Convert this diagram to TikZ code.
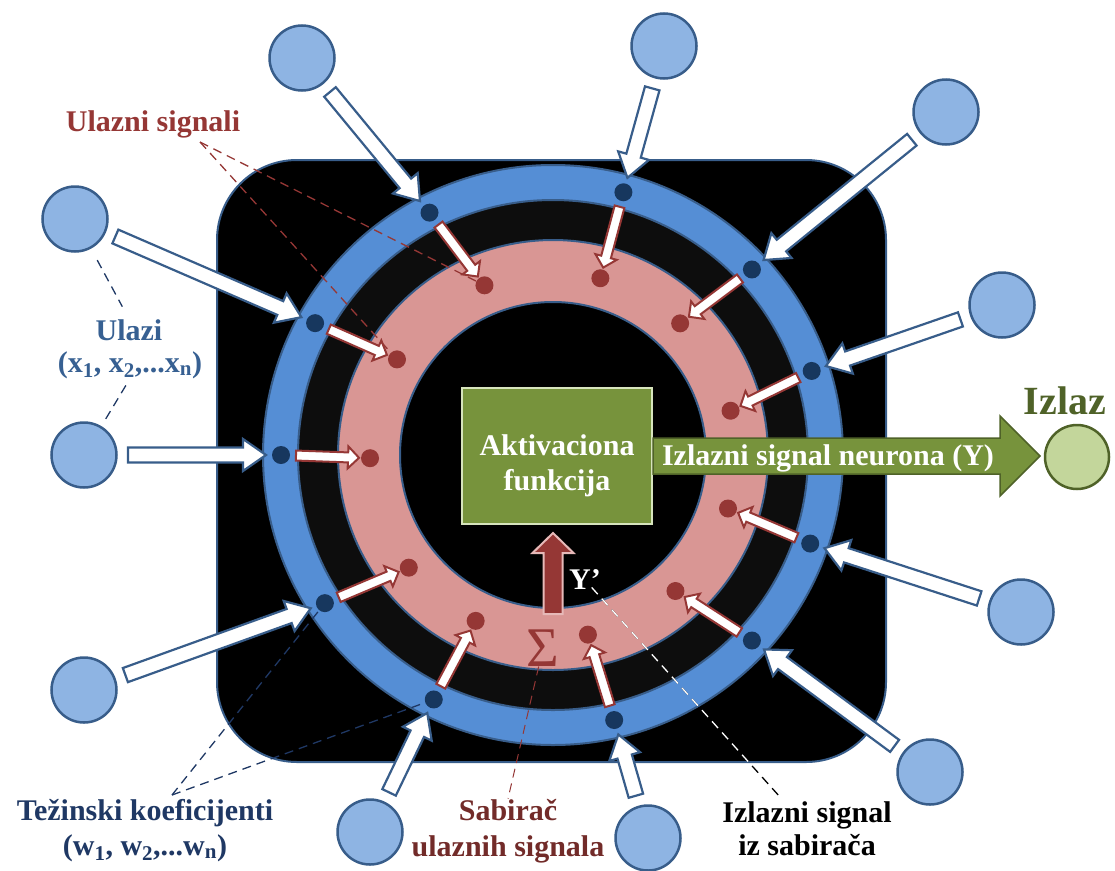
\documentclass[tikz,border=0pt]{standalone}
\usepackage{fontspec}
\setmainfont{Liberation Serif}
\usetikzlibrary{calc}

\definecolor{ringline}{HTML}{385D8A}
\definecolor{inblue}{HTML}{8EB4E3}
\definecolor{ringblue}{HTML}{558ED5}
\definecolor{wnavy}{HTML}{17375E}
\definecolor{sred}{HTML}{953735}
\definecolor{pinkring}{HTML}{D99694}
\definecolor{pinkline}{HTML}{E6B9B8}
\definecolor{darkring}{HTML}{0D0D0D}
\definecolor{boxgreen}{HTML}{77933C}
\definecolor{boxline}{HTML}{D7E4BD}
\definecolor{darkgreen}{HTML}{4F6228}
\definecolor{outgreen}{HTML}{C3D69B}
\definecolor{ulblue}{HTML}{376092}
\definecolor{tknavy}{HTML}{1F3864}
\definecolor{sablbl}{HTML}{722B29}

\tikzset{
  lbl/.style={font=\fontsize{30}{35}\selectfont\bfseries, inner sep=0pt, anchor=base},
  incirc/.style={circle, draw=ringline, line width=2.5pt, fill=inblue, minimum size=65pt, inner sep=0pt},
  wdot/.style={circle, fill=wnavy, minimum size=18pt, inner sep=0pt},
  sdot/.style={circle, fill=sred, minimum size=18pt, inner sep=0pt},
  inarrow/.style={draw=ringline, fill=white, line width=2.2pt},
  sumarrow/.style={draw=sred, fill=white, line width=2pt},
  ring/.style={draw=ringline, line width=2pt},
  leader/.style={line width=1.3pt, dash pattern=on 9pt off 6pt}
}

\newcommand{\blockarrow}[6]{%
  \coordinate (ba-b) at ($(#3)!#6!(#2)$);
  \draw[#1] ($(#2)!#4!90:(#3)$) -- ($(ba-b)!#4!90:(#3)$) -- ($(ba-b)!#5!90:(#3)$) -- (#3)
    -- ($(ba-b)!#5!-90:(#3)$) -- ($(ba-b)!#4!-90:(#3)$) -- ($(#2)!#4!-90:(#3)$) -- cycle;}

\begin{document}
\begin{tikzpicture}[x=1pt,y=1pt]
  \useasboundingbox (0,0) rectangle (1115,-870);
  \coordinate (C) at (553,-455);

  \draw[ring, fill=black, rounded corners=80pt] (217,-160) rectangle (886,-762);
  \draw[ring, fill=ringblue] (C) circle (290);
  \draw[ring, fill=darkring] (C) circle (255);
  \draw[ring, fill=pinkring] (C) circle (215);
  \draw[ring, fill=black] (C) circle (153);

  \node[draw=boxline, line width=2pt, fill=boxgreen, minimum width=190pt, minimum height=136pt] (act) at (557,-456) {};
  \node[lbl, anchor=center, align=center, text=white] (acttxt) at (557,-466) {Aktivaciona\\funkcija};

  \foreach \i/\wa/\sa in {1/117/112, 2/75/75, 3/151/148.5, 4/43/46, 5/18/14, 6/180/181,
      7/-19/-17, 8/213/218, 9/-43/-48, 10/244/245, 11/-77/-79}
  {
    \node[wdot] (w\i) at ($(C)+(\wa:272)$) {};
    \node[sdot] (s\i) at ($(C)+(\sa:183)$) {};
  }

  \foreach \i/\x/\y in {1/302/58, 2/664/46, 3/75/219, 4/946/112, 5/1002/305, 6/84/455,
      7/1021/612, 8/84/690, 9/930/772, 10/370/832, 11/648/838}
  {\node[incirc] (in\i) at (\x,-\y) {};}

  \foreach \i in {1,...,11}
  {
    \coordinate (ta\i) at ($(in\i)!44pt!(w\i)$);
    \coordinate (tb\i) at ($(w\i)!15pt!(in\i)$);
    \blockarrow{inarrow}{ta\i}{tb\i}{7.5pt}{16pt}{23pt}
    \coordinate (ra\i) at ($(w\i)!15pt!(s\i)$);
    \coordinate (rb\i) at ($(s\i)!11pt!(w\i)$);
    \blockarrow{sumarrow}{ra\i}{rb\i}{5pt}{11pt}{11pt}
  }

  \coordinate (sumbase) at (553,-614);
  \coordinate (sumtip) at (553,-533);
  \blockarrow{fill=sred, draw=pinkline, line width=2pt}{sumbase}{sumtip}{9.5pt}{20.5pt}{20pt}

  \node[circle, draw=darkgreen, line width=2.5pt, fill=outgreen, minimum size=64pt] (out) at (1077,-457) {};
  \coordinate (outbase) at (act.east);
  \coordinate (outtip) at (1040,-456);
  \blockarrow{fill=boxgreen, draw=darkgreen, line width=1.5pt}{outbase}{outtip}{18pt}{40pt}{40pt}
  \node[lbl, anchor=center, text=white] (outtxt) at (828,-458) {Izlazni signal neurona (Y)};
  \node[lbl, text=darkgreen, font=\fontsize{40}{46}\selectfont\bfseries] (izlaz) at (1065,-414) {Izlaz};

  \node[lbl, anchor=center, text=white] (yprime) at (585,-580) {Y’};
  \node[text=sred, font=\fontsize{56}{62}\selectfont, inner sep=0pt] (sigma) at (543,-648) {Σ};

  \node[lbl, text=sred] (ulsig) at (153,-131) {Ulazni signali};
  \node[lbl, text=ulblue] (ulazi) at (129,-340) {Ulazi};
  \node[lbl, text=ulblue] (ulazix) at (130,-372) {(x\textsubscript{1}, x\textsubscript{2},...x\textsubscript{n})};
  \node[lbl, text=tknavy] (tezin) at (145,-820) {Težinski koeficijenti};
  \node[lbl, text=tknavy] (tezinw) at (145,-855) {(w\textsubscript{1}, w\textsubscript{2},...w\textsubscript{n})};
  \node[lbl, text=sablbl] (sabir) at (508,-820) {Sabirač};
  \node[lbl, text=sablbl] (sabirul) at (508,-856) {ulaznih signala};
  \node[lbl] (izsig) at (807,-822) {Izlazni signal};
  \node[lbl] (izsab) at (807,-855) {iz sabirača};

  \coordinate (ulsigtip) at (200,-142);
  \draw[leader, sred] (ulsigtip) -- (s1);
  \draw[leader, sred] (ulsigtip) -- (s3);
  \draw[leader, tknavy, shorten <=13pt, shorten >=14pt] (in3) -- (ulazi.north);
  \draw[leader, tknavy, shorten <=8pt, shorten >=7pt] (ulazix.south) -- (in6);
  \coordinate (tezintip) at (172,-795);
  \draw[leader, tknavy] (tezintip) -- (w8);
  \draw[leader, tknavy] (tezintip) -- (w10);
  \draw[leader, sred, line width=1pt] (sigma) -- (sabir.north);
  \coordinate (izsigtip) at (780,-797);
  \draw[leader, shorten <=10pt] (yprime.center) -- (izsigtip);
  \begin{scope}
    \clip[rounded corners=80pt] (217,-160) rectangle (886,-762);
    \draw[leader, white, shorten <=10pt] (yprime.center) -- (izsigtip);
  \end{scope}
\end{tikzpicture}
\end{document}
